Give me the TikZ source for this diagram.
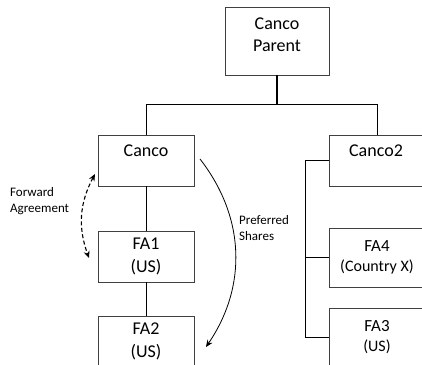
\documentclass[tikz,border=0pt]{standalone}
\usepackage{fontspec}
\setmainfont{Carlito}
\usetikzlibrary{arrows.meta,positioning}
\definecolor{boxgray}{RGB}{64,64,64}

\begin{document}
\begin{tikzpicture}[x=1pt, y=1pt, >={Stealth[length=7pt,width=6pt]},
    entity/.style={draw=boxgray, line width=0.8pt, fill=white, minimum width=96pt,
      minimum height=51pt, inner sep=0pt, align=center, font=\fontsize{18}{23}\selectfont},
    tallentity/.style={entity, minimum height=59pt, font=\fontsize{17}{20}\selectfont},
    boxtext/.style={inner sep=0pt, align=center, font=\fontsize{18}{22}\selectfont},
    note/.style={inner sep=0pt, align=left, font=\fontsize{13}{16}\selectfont},
    link/.style={line width=0.8pt}]
  \useasboundingbox (0,0) rectangle (422,364);
  \clip (0,0) rectangle (422,364);

  % boxes
  \node[entity, minimum width=104pt, minimum height=68pt] (parent) at (277,323) {};
  \node[boxtext] (parent-t) at (277,329) {Canco\\Parent};
  \node[entity] (canco) at (146,203.5) {};
  \node[boxtext] (canco-t) at (146,213) {Canco};
  \node[entity] (fa1) at (146,107.5) {FA1\\(US)};
  \node[entity] (fa2) at (146,22.5) {FA2\\(US)};
  \node[entity] (canco2) at (377,203.5) {};
  \node[boxtext] (canco2-t) at (376,213) {Canco2};
  \node[tallentity] (fa4) at (377,106.5) {FA4\\{\fontsize{16}{20}\selectfont(Country X)}};
  \node[tallentity] (fa3) at (377,26.5) {FA3\\{\fontsize{16}{20}\selectfont(US)}};

  % ownership lines
  \coordinate (bus) at (0,260);
  \coordinate (spine) at (305,0);
  \draw[line width=1.3pt] (parent.south) -- (parent.south |- bus);
  \draw[link] (canco.north) -- (canco.north |- bus) -- (canco2.north |- bus) -- (canco2.north);
  \draw[link] (canco) -- (fa1) -- (fa2);
  \draw[link] (canco2.west) -- (canco2.west -| spine) -- (fa3.west -| spine) -- (fa3.west);
  \draw[line width=1.1pt] (fa4.west) -- (fa4.west -| spine);

  % transactions
  \coordinate (fwd-a) at (95,190);
  \coordinate (fwd-b) at (89,106);
  \draw[<->, line width=1.1pt, dash pattern=on 4pt off 2.5pt] (fwd-a) to[bend right=24] (fwd-b);
  \node[note, anchor=west] (fwd-t) at (10,163) {Forward\\Agreement};
  \coordinate (pref-a) at (200,205);
  \coordinate (pref-b) at (206,17);
  \draw[->, link] (pref-a) to[bend left=36] (pref-b);
  \node[note, anchor=west] (pref-t) at (239,135.5) {Preferred\\Shares};
\end{tikzpicture}
\end{document}
